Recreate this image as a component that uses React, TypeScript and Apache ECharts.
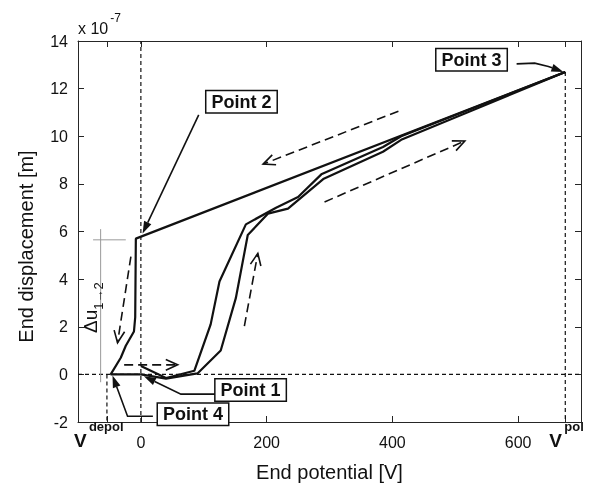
import React, { useEffect, useRef } from "react";
import * as echarts from "echarts";

// ---- axes ----
const X_MIN = -100;
const X_MAX = 700;
const Y_MIN = -2;
const Y_MAX = 14;
const Y_STEP = 2;
const V_DEPOL = -54;
const V_POL = 675;
const X_TICK_VALUES = [V_DEPOL, 0, 200, 400, 600, V_POL];
const X_LABEL_VALUES = [0, 200, 400, 600];
const V_LABEL_VALUES = [V_DEPOL, V_POL];
const V_LABEL_SUPS = ["depol", "pol"];

// ---- curves (x: potential [V], y: displacement [1e-7 m]) ----
const cycle1V = [0, 40, 85, 111, 125, 167, 215, 250, 287, 385, 414, 675];
const cycle1U = [0.35, -0.15, 0.15, 2.1, 3.9, 6.3, 7.0, 7.45, 8.4, 9.55, 10.0, 12.7];
const cycle2V = [0, 40, 90, 127, 151, 170, 202, 234, 290, 385, 414, 675];
const cycle2U = [0, -0.18, 0.04, 1.0, 3.2, 5.85, 6.75, 6.96, 8.2, 9.35, 9.85, 12.7];
const unloadV = [675, -8, -9, -11, -24, -32, -48, 0];
const unloadU = [12.7, 5.7, 2.4, 1.8, 1.2, 0.7, 0, 0];

// ---- direction arrows (dashed) ----
const DIR_FROM_V = [409.6, 292.1, 164.6, -15.9, -26.6];
const DIR_FROM_U = [11.05, 7.24, 2.03, 4.95, 0.4];
const DIR_TO_V = [194.4, 515.2, 186, -37.1, 58.5];
const DIR_TO_U = [8.83, 9.8, 5.08, 1.33, 0.4];

// ---- callouts ----
const CALLOUT_TEXT = ["Point 1", "Point 2", "Point 3", "Point 4"];
const CALLOUT_BOX_V = [174.5, 160, 525.9, 82.9];
const CALLOUT_BOX_U = [-0.66, 11.45, 13.21, -1.67];
const CALLOUT_PATHS: number[][][] = [
  [[121, -0.83], [63.7, -0.83], [4.8, -0.08]],
  [[92, 10.9], [2.7, 5.92]],
  [[597.6, 13.04], [626.3, 13.07], [648.1, 12.93], [672, 12.7]],
  [[19.1, -1.76], [-21.2, -1.76], [-45.1, -0.05]],
];

// ---- Δu bracket ----
const DU_H_V = [-76, -24];
const DU_H_U = [5.65, 5.65];
const DU_V_V = [-64, -64];
const DU_V_U = [6.1, -0.33];
const DU_LABEL = [-76, 2.8];

const FONT = '"Liberation Sans", Arial, Helvetica, sans-serif';
const INK = "#111";

const zip = (a: number[], b: number[]) => a.map((v, i) => [v, b[i]]);

export default function App() {
  const ref = useRef<HTMLDivElement>(null);
  useEffect(() => {
    if (!ref.current) return;
    const chart = echarts.init(ref.current, undefined, { renderer: "svg" });

    const solid = (data: number[][]) => ({
      type: "line",
      data,
      showSymbol: false,
      symbol: "none",
      lineStyle: { color: INK, width: 2.2 },
      z: 3,
    });
    const dashedRef = (data: number[][]) => ({
      type: "line",
      data,
      showSymbol: false,
      symbol: "none",
      lineStyle: { color: INK, width: 1.2, type: [4, 3] },
      z: 2,
    });
    const grayLine = (data: number[][]) => ({
      type: "line",
      data,
      showSymbol: false,
      symbol: "none",
      lineStyle: { color: "#9a9a9a", width: 1 },
      z: 2,
    });

    const option: any = {
      animation: false,
      grid: { left: 78, top: 41, right: 11, bottom: 62, containLabel: false },
      xAxis: [
        {
          type: "value",
          position: "bottom",
          min: X_MIN,
          max: X_MAX,
          interval: 100,
          name: "End potential [V]",
          nameLocation: "middle",
          nameGap: 40,
          nameTextStyle: { fontFamily: FONT, fontSize: 20, color: INK },
          axisLine: { show: true, onZero: false, lineStyle: { color: "#262626", width: 1 } },
          axisTick: { show: true, inside: true, length: 6, customValues: X_TICK_VALUES, lineStyle: { color: "#262626" } },
          splitLine: { show: false },
          axisLabel: {
            customValues: X_LABEL_VALUES,
            margin: 12,
            fontFamily: FONT,
            color: INK,
            fontSize: 16,
          },
        },
        {
          type: "value",
          position: "top",
          min: X_MIN,
          max: X_MAX,
          interval: 100,
          axisLine: { show: true, onZero: false, lineStyle: { color: "#262626", width: 1 } },
          axisTick: { show: true, inside: true, length: 6, customValues: X_TICK_VALUES, lineStyle: { color: "#262626" } },
          axisLabel: { show: false },
          splitLine: { show: false },
        },
      ],
      yAxis: [
        {
          type: "value",
          position: "left",
          min: Y_MIN,
          max: Y_MAX,
          interval: Y_STEP,
          name: "End displacement [m]",
          nameLocation: "middle",
          nameGap: 42,
          nameTextStyle: { fontFamily: FONT, fontSize: 20, color: INK, padding: [0, 30, 0, 0] },
          axisLine: { show: true, onZero: false, lineStyle: { color: "#262626", width: 1 } },
          axisTick: { show: true, inside: true, length: 6, lineStyle: { color: "#262626" } },
          splitLine: { show: false },
          axisLabel: { fontFamily: FONT, fontSize: 16, color: INK, margin: 10 },
        },
        {
          type: "value",
          position: "right",
          min: Y_MIN,
          max: Y_MAX,
          interval: Y_STEP,
          axisLine: { show: true, onZero: false, lineStyle: { color: "#262626", width: 1 } },
          axisTick: { show: true, inside: true, length: 6, lineStyle: { color: "#262626" } },
          axisLabel: { show: false },
          splitLine: { show: false },
        },
      ],
      graphic: [
        {
          type: "text",
          left: 78,
          top: 12,
          style: {
            text: "{a|x 10}{b|-7}",
            rich: {
              a: { fontSize: 16, fontFamily: FONT, fill: INK, lineHeight: 24, verticalAlign: "bottom" },
              b: { fontSize: 12, fontFamily: FONT, fill: INK, lineHeight: 12, verticalAlign: "top", padding: [0, 0, 0, 2] },
            },
          },
        },
      ],
      series: [
        dashedRef([[0, Y_MIN], [0, Y_MAX]]),
        dashedRef([[X_MIN, 0], [X_MAX, 0]]),
        dashedRef([[V_DEPOL, 0], [V_DEPOL, Y_MIN]]),
        dashedRef([[V_POL, 12.7], [V_POL, Y_MIN]]),
        grayLine(zip(DU_H_V, DU_H_U)),
        grayLine(zip(DU_V_V, DU_V_U)),
        solid(zip(cycle1V, cycle1U)),
        solid(zip(cycle2V, cycle2U)),
        solid(zip(unloadV, unloadU)),
        {
          type: "custom",
          z: 5,
          data: DIR_FROM_V.map((v, i) => [v, DIR_FROM_U[i], DIR_TO_V[i], DIR_TO_U[i]]),
          encode: { x: [0, 2], y: [1, 3] },
          renderItem: (_p: any, api: any) => {
            const p1 = api.coord([api.value(0), api.value(1)]);
            const p2 = api.coord([api.value(2), api.value(3)]);
            const ang = Math.atan2(p2[1] - p1[1], p2[0] - p1[0]);
            const L = 13;
            const a = 0.42;
            const h1 = [p2[0] - L * Math.cos(ang - a), p2[1] - L * Math.sin(ang - a)];
            const h2 = [p2[0] - L * Math.cos(ang + a), p2[1] - L * Math.sin(ang + a)];
            return {
              type: "group",
              children: [
                { type: "line", shape: { x1: p1[0], y1: p1[1], x2: p2[0], y2: p2[1] }, style: { stroke: INK, lineWidth: 1.6, lineDash: [9, 5] } },
                { type: "polyline", shape: { points: [h1, p2, h2] }, style: { stroke: INK, lineWidth: 1.6, fill: null } },
              ],
            };
          },
        },
        {
          type: "custom",
          z: 6,
          data: CALLOUT_BOX_V.map((v, i) => [v, CALLOUT_BOX_U[i]]),
          renderItem: (params: any, api: any) => {
            const i = params.dataIndex;
            const c = api.coord([api.value(0), api.value(1)]);
            const pts = CALLOUT_PATHS[i].map((p) => api.coord(p));
            const n = pts.length;
            const tip = pts[n - 1];
            const prev = pts[n - 2];
            const ang = Math.atan2(tip[1] - prev[1], tip[0] - prev[0]);
            const L = 12;
            const W = 4;
            const base = [tip[0] - L * Math.cos(ang), tip[1] - L * Math.sin(ang)];
            const left = [base[0] + W * Math.sin(ang), base[1] - W * Math.cos(ang)];
            const right = [base[0] - W * Math.sin(ang), base[1] + W * Math.cos(ang)];
            return {
              type: "group",
              children: [
                { type: "polyline", shape: { points: pts.slice(0, n - 1).concat([base]) }, style: { stroke: INK, lineWidth: 1.6, fill: null } },
                { type: "polygon", shape: { points: [tip, left, right] }, style: { fill: INK } },
                {
                  type: "text",
                  x: c[0],
                  y: c[1],
                  style: {
                    text: CALLOUT_TEXT[i],
                    align: "center",
                    verticalAlign: "middle",
                    fontFamily: FONT,
                    fontWeight: "bold",
                    fontSize: 18,
                    fill: INK,
                    backgroundColor: "#fff",
                    borderColor: INK,
                    borderWidth: 1.5,
                    padding: [2, 5, 1, 5],
                  },
                },
              ],
            };
          },
        },
        {
          type: "custom",
          z: 6,
          data: V_LABEL_VALUES.map((v) => [v, Y_MIN]),
          renderItem: (params: any, api: any) => {
            const c = api.coord([api.value(0), api.value(1)]);
            const i = params.dataIndex;
            const x0 = i === 0 ? c[0] - 33 : c[0] - 16;
            return {
              type: "group",
              children: [
                { type: "text", x: x0, y: c[1] + 18, style: { text: "V", align: "left", verticalAlign: "middle", fontFamily: FONT, fontWeight: "bold", fontSize: 19, fill: INK } },
                { type: "text", x: x0 + 15, y: c[1] + 4, style: { text: V_LABEL_SUPS[i], align: "left", verticalAlign: "middle", fontFamily: FONT, fontWeight: "bold", fontSize: 13, fill: INK } },
              ],
            };
          },
        },
        {
          type: "custom",
          z: 4,
          data: [DU_LABEL],
          renderItem: (_p: any, api: any) => {
            const c = api.coord([api.value(0), api.value(1)]);
            return {
              type: "text",
              x: c[0],
              y: c[1],
              rotation: Math.PI / 2,
              style: {
                text: "{a|Δu}{b|1→2}",
                align: "center",
                verticalAlign: "middle",
                rich: {
                  a: { fontSize: 19, fontFamily: FONT, fill: INK, lineHeight: 24, verticalAlign: "top" },
                  b: { fontSize: 13, fontFamily: FONT, fill: INK, lineHeight: 14, verticalAlign: "bottom" },
                },
              },
            };
          },
        },
      ],
    };
    chart.setOption(option);
    return () => chart.dispose();
  }, []);
  return <div ref={ref} style={{ position: "fixed", left: 0, top: 0, width: 592, height: 487 }} />;
}
